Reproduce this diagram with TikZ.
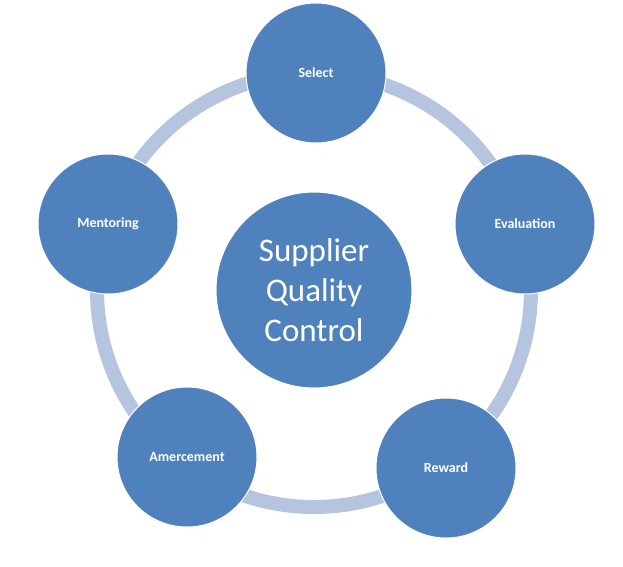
\documentclass[tikz,border=0pt]{standalone}
\usepackage{fontspec}
\setmainfont{Carlito}
\definecolor{stepblue}{RGB}{79,129,189}
\definecolor{ringblue}{RGB}{182,197,223}
\tikzset{
  stepnode/.style={circle, fill=stepblue, draw=white, line width=1pt, minimum size=140pt,
    text=white, font=\fontsize{14pt}{16pt}\selectfont\bfseries},
  hubnode/.style={circle, fill=stepblue, draw=white, line width=1pt, minimum size=196pt,
    text=white, align=center, font=\fontsize{33pt}{40pt}\selectfont}
}
\begin{document}
\begin{tikzpicture}[x=1pt,y=-1pt]
  \useasboundingbox (0,0) rectangle (623,566);
  \coordinate (mid) at (314,290);
  \draw[ringblue, line width=14pt] (mid) circle (217);

  \node[hubnode] (hub) at (mid) {Supplier\\Quality\\Control};
  \node[stepnode] (select) at (316,73) {Select};
  \node[stepnode] (evaluation) at (525,224) {Evaluation};
  \node[stepnode] (reward) at (446,468) {Reward};
  \node[stepnode] (amercement) at (187,457) {Amercement};
  \node[stepnode] (mentoring) at (108,224) {Mentoring};
\end{tikzpicture}
\end{document}
